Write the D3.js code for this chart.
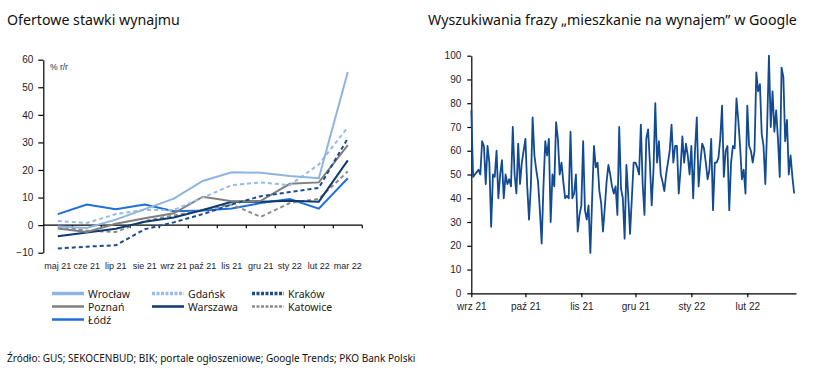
<!DOCTYPE html>
<html>
<head>
<meta charset="utf-8">
<script src="https://cdn.jsdelivr.net/npm/d3@7"></script>
<style>
  body { margin: 0; background: #fff; }
  svg { display: block; }
  .tick text { font-family: "Liberation Sans", Arial, sans-serif; fill: #1b1b2b; }
  .title { font-family: "Noto Sans", sans-serif; font-size: 14.2px; fill: #111; }
</style>
</head>
<body>
<svg width="834" height="374"></svg>
<script>
// left chart: offer rents, % y/y
const months = ['maj 21', 'cze 21', 'lip 21', 'sie 21', 'wrz 21', 'paź 21', 'lis 21', 'gru 21', 'sty 22', 'lut 22', 'mar 22'];
const wroclaw  = [-0.5, -1.0, 2.0, 5.8, 9.6, 16.0, 19.2, 19.0, 17.8, 17.0, 55.5];
const gdansk   = [1.5, 0.8, 4.0, 5.5, 5.5, 10.0, 14.5, 15.5, 14.5, 22.0, 35.5];
const krakow   = [-8.5, -7.8, -7.3, -1.5, 1.0, 4.0, 7.5, 10.5, 12.0, 13.5, 31.5];
const poznan   = [-1.2, -2.5, 0.5, 2.5, 4.3, 10.3, 8.7, 8.8, 15.0, 15.5, 29.0];
const warszawa = [-4.0, -2.7, -1.3, 1.2, 2.8, 5.5, 8.5, 8.5, 8.8, 8.5, 23.5];
const katowice = [-0.5, -2.0, -2.5, 1.5, 3.5, 5.5, 7.5, 3.0, 8.0, 9.5, 19.5];
const lodz     = [4.0, 7.5, 5.8, 7.5, 5.0, 5.3, 6.0, 8.0, 9.5, 6.0, 17.0];
const leftTicks = [-10, 0, 10, 20, 30, 40, 50, 60];

// right chart: Google Trends, daily from 1 Sep 2021
const trendStart = new Date(2021, 8, 1);
const trendEnd = new Date(2022, 1, 28);
const trend = [
  77,49,50,51,52,50,64,62,46,62,
  55,28,50,49,60,40,50,56,40,50,
  46,48,45,70,50,42,63,46,55,60,
  65,45,31,45,74,58,52,47,35,21,
  45,64,58,65,30,50,45,72,65,50,
  55,47,40,41,40,68,40,42,50,26,
  33,37,64,35,31,37,17,40,62,53,
  55,43,38,26,36,47,54,50,45,
  42,45,33,70,44,40,23,54,41,25,
  40,55,55,53,50,71,46,33,65,69,
  55,37,52,80,55,64,50,47,43,
  50,55,60,71,55,62,62,42,52,66,
  55,63,58,50,62,40,60,74,45,55,
  63,61,55,48,52,65,35,55,55,
  57,65,79,49,60,62,35,55,62,61,
  82,73,62,48,52,42,79,62,60,
  55,60,93,85,88,67,62,46,70,100,
  70,85,68,77,65,49,95,91,64,
  73,50,58,49,42
];
const rightTicks = [0, 10, 20, 30, 40, 50, 60, 70, 80, 90, 100];
const monthNames = ['sty', 'lut', 'mar', 'kwi', 'maj', 'cze', 'lip', 'sie', 'wrz', 'paź', 'lis', 'gru'];

const series = [
  { name: 'Wrocław',  values: wroclaw,  color: '#8db4e2', width: 2,   dash: null,  legW: 3.5 },
  { name: 'Gdańsk',   values: gdansk,   color: '#96bbe8', width: 2,   dash: '4,3', legW: 3.5 },
  { name: 'Kraków',   values: krakow,   color: '#1d4b8f', width: 2,   dash: '4,3', legW: 3.5 },
  { name: 'Poznań',   values: poznan,   color: '#7f7f7f', width: 2,   dash: null,  legW: 2.5 },
  { name: 'Warszawa', values: warszawa, color: '#0e3a73', width: 2,   dash: null,  legW: 2.5 },
  { name: 'Katowice', values: katowice, color: '#8c8c8c', width: 2,   dash: '4,3', legW: 2.5 },
  { name: 'Łódź',     values: lodz,     color: '#1f6fd8', width: 2,   dash: null,  legW: 2.5 }
];

const svg = d3.select('svg');

// titles
svg.append('text').attr('class', 'title').attr('x', 7).attr('y', 25).text('Ofertowe stawki wynajmu');
svg.append('text').attr('class', 'title').attr('x', 428).attr('y', 25).text('Wyszukiwania frazy „mieszkanie na wynajem” w Google');

// ---------- left chart ----------
const x1 = d3.scaleBand().domain(months).range([43.3, 362.3]);
const y1 = d3.scaleLinear().domain([-10, 60]).range([252.7, 59.7]);

const yAxis1 = svg.append('g')
  .attr('transform', 'translate(43.3,0)')
  .call(d3.axisLeft(y1).tickValues(leftTicks).tickSize(5).tickSizeOuter(0).tickPadding(5));
yAxis1.selectAll('text').style('font-size', '10px');
yAxis1.selectAll('path, line').attr('stroke', '#000').attr('stroke-width', 1.2);

// zero line with ticks on month boundaries
svg.append('line')
  .attr('x1', x1.range()[0]).attr('x2', x1.range()[1])
  .attr('y1', y1(0)).attr('y2', y1(0))
  .attr('stroke', '#000').attr('stroke-width', 1.2);
svg.append('g').selectAll('line')
  .data(months.slice(1).concat(['end']))
  .enter().append('line')
  .attr('x1', d => d === 'end' ? x1.range()[1] : x1(d))
  .attr('x2', d => d === 'end' ? x1.range()[1] : x1(d))
  .attr('y1', y1(0)).attr('y2', y1(0) + 3)
  .attr('stroke', '#000').attr('stroke-width', 1.2);

// month labels at the bottom
const xAxis1 = svg.append('g')
  .attr('transform', 'translate(0,' + y1(-10) + ')')
  .call(d3.axisBottom(x1).tickSize(0).tickPadding(10));
xAxis1.select('.domain').remove();
xAxis1.selectAll('text').style('font-size', '9px');

svg.append('text')
  .attr('x', 50).attr('y', 70)
  .style('font-family', '"Liberation Sans", Arial, sans-serif')
  .style('font-size', '8.5px').style('fill', '#1b2a4a')
  .text('% r/r');

const line1 = d3.line()
  .x((d, i) => x1(months[i]) + x1.bandwidth() / 2)
  .y(d => y1(d));

// draw in reverse so the first series is on top
svg.append('g').selectAll('path')
  .data(series.slice().reverse())
  .enter().append('path')
  .attr('d', d => line1(d.values))
  .attr('fill', 'none')
  .attr('stroke', d => d.color)
  .attr('stroke-width', d => d.width)
  .attr('stroke-dasharray', d => d.dash);

// legend
const legend = svg.append('g').selectAll('g')
  .data(series)
  .enter().append('g')
  .attr('transform', (d, i) => 'translate(' + (52 + (i % 3) * 100) + ',' + (293.5 + Math.floor(i / 3) * 13) + ')');
legend.append('line')
  .attr('x1', 0).attr('x2', 32).attr('y1', 0).attr('y2', 0)
  .attr('stroke', d => d.color)
  .attr('stroke-width', d => d.legW)
  .attr('stroke-dasharray', d => d.dash ? '3,1.5' : null);
legend.append('text')
  .attr('x', 36).attr('y', 4)
  .style('font-family', '"Noto Sans", sans-serif')
  .style('font-size', '10.5px').style('fill', '#1a1a1a')
  .text(d => d.name);

// ---------- right chart ----------
const x2 = d3.scaleTime().domain([trendStart, trendEnd]).range([471.3, 796]);
const y2 = d3.scaleLinear().domain([0, 100]).range([293.3, 55.7]);

const yAxis2 = svg.append('g')
  .attr('transform', 'translate(471.3,0)')
  .call(d3.axisLeft(y2).tickValues(rightTicks).tickSize(4).tickSizeOuter(0).tickPadding(6));
yAxis2.selectAll('text').style('font-size', '10px');
yAxis2.selectAll('path, line').attr('stroke', '#000').attr('stroke-width', 1.2);

const xAxis2 = svg.append('g')
  .attr('transform', 'translate(0,293.3)')
  .call(d3.axisBottom(x2)
    .ticks(d3.timeMonth.every(1))
    .tickFormat(d => monthNames[d.getMonth()] + ' ' + String(d.getFullYear()).slice(2))
    .tickSize(4).tickSizeOuter(0).tickPadding(6));
xAxis2.selectAll('text').style('font-size', '10px');
xAxis2.selectAll('path, line').attr('stroke', '#000').attr('stroke-width', 1.2);

const line2 = d3.line()
  .x((d, i) => x2(d3.timeDay.offset(trendStart, i)))
  .y(d => y2(d));

svg.append('path')
  .attr('d', line2(trend))
  .attr('fill', 'none')
  .attr('stroke', '#124b91')
  .attr('stroke-width', 1.8)
  .attr('stroke-linejoin', 'round');

// source
svg.append('text')
  .attr('x', 7).attr('y', 362)
  .style('font-family', '"Noto Sans", sans-serif')
  .style('font-size', '10px').style('fill', '#111')
  .text('Źródło: GUS; SEKOCENBUD; BIK; portale ogłoszeniowe; Google Trends; PKO Bank Polski');
</script>
</body>
</html>
